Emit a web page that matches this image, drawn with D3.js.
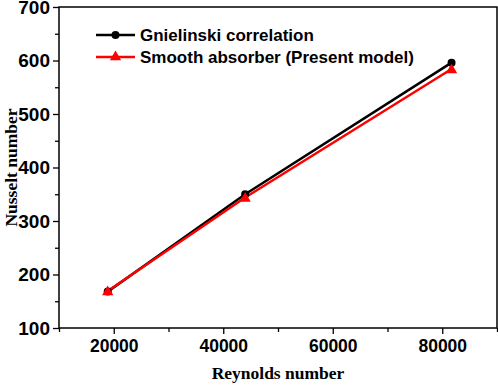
<!DOCTYPE html>
<html><head><meta charset="utf-8">
<script src="https://cdn.jsdelivr.net/npm/d3@7"></script>
<style>body{margin:0;background:#fff}</style>
</head><body>
<svg id="c" width="498" height="385"></svg>
<script>
const reynolds = [18900, 44000, 81700];
const gnielinski = [168, 350, 596];
const smooth = [169, 344, 584];
const seriesNames = ["Gnielinski correlation", "Smooth absorber (Present model)"];
const seriesColors = ["#000000", "#ff0000"];
const xTicks = [20000, 40000, 60000, 80000];
const yTicks = [100, 200, 300, 400, 500, 600, 700];

const svg = d3.select("#c");
const L = 59, R = 497, T = 7, B = 328;
const x = d3.scaleLinear().domain([10000, 90000]).range([L, R]);
const y = d3.scaleLinear().domain([100, 700]).range([B, T]);

const xMinor = d3.range(10000, 90001, 10000).filter(v => !xTicks.includes(v));
const yMinor = d3.range(150, 700, 100);

const gx = svg.append("g").attr("transform", `translate(0,${B})`)
  .call(d3.axisBottom(x).tickValues(xTicks).tickFormat(d3.format("d")).tickSize(6).tickPadding(6));
const gxm = svg.append("g").attr("transform", `translate(0,${B})`)
  .call(d3.axisBottom(x).tickValues(xMinor).tickFormat("").tickSize(4));
const gy = svg.append("g").attr("transform", `translate(${L},0)`)
  .call(d3.axisLeft(y).tickValues(yTicks).tickFormat(d3.format("d")).tickSize(6).tickPadding(3));
const gym = svg.append("g").attr("transform", `translate(${L},0)`)
  .call(d3.axisLeft(y).tickValues(yMinor).tickFormat("").tickSize(4));
[gx, gxm, gy, gym].forEach(g => {
  g.select(".domain").remove();
  g.selectAll("line").attr("stroke", "#000").attr("stroke-width", 1.3);
  g.selectAll("text").attr("font-family", "Liberation Sans, Arial, sans-serif")
    .attr("font-weight", "bold").attr("font-size", "17.5px").attr("fill", "#000");
});
gy.selectAll("text").attr("font-size", "19px");

svg.append("rect").attr("x", L).attr("y", T).attr("width", R - L).attr("height", B - T)
  .attr("fill", "none").attr("stroke", "#000").attr("stroke-width", 1.5);

const line = d3.line().x(d => x(d[0])).y(d => y(d[1]));
const data = [gnielinski, smooth];
const tri = d3.symbol().type(d3.symbolTriangle).size(55);

data.forEach((vals, i) => {
  const pts = reynolds.map((r, j) => [r, vals[j]]);
  svg.append("path").datum(pts).attr("d", line).attr("fill", "none")
    .attr("stroke", seriesColors[i]).attr("stroke-width", 2.5);
});
const blackPts = reynolds.map((r, j) => [r, gnielinski[j]]);
svg.selectAll(".c").data(blackPts).enter().append("circle")
  .attr("cx", d => x(d[0])).attr("cy", d => y(d[1])).attr("r", 4).attr("fill", "#000");
const redPts = reynolds.map((r, j) => [r, smooth[j]]);
svg.selectAll(".t").data(redPts).enter().append("path")
  .attr("d", tri).attr("transform", d => `translate(${x(d[0])},${y(d[1]) + 1})`).attr("fill", "#ff0000");

const lg = svg.append("g");
seriesNames.forEach((name, i) => {
  const yy = 35 + i * 22;
  lg.append("line").attr("x1", 96).attr("x2", 135).attr("y1", yy).attr("y2", yy)
    .attr("stroke", seriesColors[i]).attr("stroke-width", 2.5);
  if (i === 0) lg.append("circle").attr("cx", 115.5).attr("cy", yy).attr("r", 4).attr("fill", "#000");
  else lg.append("path").attr("d", tri).attr("transform", `translate(115.5,${yy})`).attr("fill", "#ff0000");
  lg.append("text").attr("x", 140).attr("y", yy).attr("dy", "0.35em")
    .attr("font-family", "Liberation Sans, Arial, sans-serif").attr("font-weight", "bold")
    .attr("font-size", "17px").text(name);
});

svg.append("text").attr("x", (L + R) / 2).attr("y", 379).attr("text-anchor", "middle")
  .attr("font-family", "Liberation Serif, Times New Roman, serif").attr("font-weight", "bold")
  .attr("font-size", "17.5px").text("Reynolds number");
svg.append("text").attr("transform", `translate(17,${(T + B) / 2}) rotate(-90)`).attr("text-anchor", "middle")
  .attr("font-family", "Liberation Serif, Times New Roman, serif").attr("font-weight", "bold")
  .attr("font-size", "17.5px").text("Nusselt number");
</script>
</body></html>
